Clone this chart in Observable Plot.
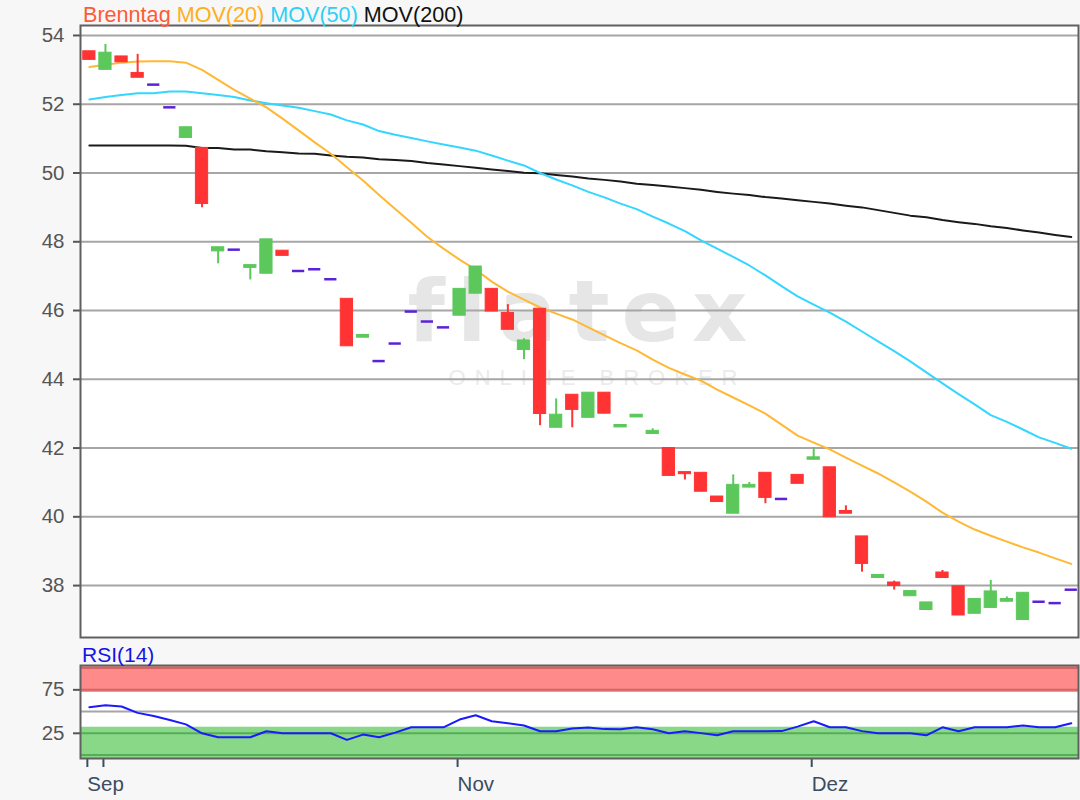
<!DOCTYPE html>
<html><head><meta charset="utf-8">
<script src="https://cdn.jsdelivr.net/npm/d3@7"></script>
<script src="https://cdn.jsdelivr.net/npm/@observablehq/plot@0.6"></script>
<style>
body{margin:0;background:#f7f7f7;}
#wrap{position:relative;width:1080px;height:800px;background:#f7f7f7;font-family:"Liberation Sans",Arial,sans-serif;}
#main{position:absolute;left:0;top:0;}
#rsi{position:absolute;left:0;top:645px;}
.lbl{position:absolute;font-size:21px;line-height:21px;white-space:pre;}
</style></head><body>
<div id="wrap">
<div id="main"></div><div id="rsi"></div>
<div class="lbl" style="left:83px;top:4px;font-size:21.6px"><span style="color:#ff5a36">Brenntag</span> <span style="color:#ffae1a">MOV(20)</span> <span style="color:#2dd0f5">MOV(50)</span> <span style="color:#111">MOV(200)</span></div>
<div class="lbl" style="left:82px;top:644px;color:#1414e6">RSI(14)</div>
</div>
<script>
// ---- data ----
const open  = [53.54,53.00,53.39,52.91,52.57,51.91,51.02,50.73,47.72,47.77,47.24,47.07,47.74,47.15,47.20,46.91,46.34,45.21,44.53,45.04,45.97,45.68,45.51,45.85,46.49,46.63,45.93,44.85,46.05,42.59,43.55,42.88,43.61,42.60,42.89,42.41,42.00,41.30,41.28,40.59,40.09,40.85,41.28,40.52,41.22,41.66,41.44,40.17,39.43,38.22,38.09,37.69,37.29,38.38,37.98,37.18,37.35,37.53,37.00,37.53,37.49,37.88];
const high  = [53.54,53.74,53.39,53.45,52.57,51.91,51.33,50.73,47.84,47.77,47.32,48.07,47.74,47.15,47.20,46.91,46.34,45.29,44.53,45.04,45.97,45.68,45.51,46.63,47.28,46.63,46.17,45.18,46.05,43.43,43.55,43.61,43.61,42.67,42.97,42.56,42.00,41.30,41.28,40.59,41.22,41.00,41.28,40.52,41.22,42.01,41.44,40.32,39.43,38.31,38.13,37.84,37.51,38.44,37.98,37.61,38.15,37.67,37.79,37.53,37.49,37.88];
const low   = [53.29,53.00,53.22,52.77,52.57,51.91,51.02,48.99,47.36,47.77,46.89,47.07,47.59,47.15,47.20,46.91,44.96,45.21,44.53,45.04,45.97,45.68,45.51,45.85,46.49,45.97,45.44,44.57,42.65,42.59,42.59,42.88,43.00,42.60,42.89,42.41,41.19,41.07,40.73,40.43,40.09,40.85,40.38,40.52,40.96,41.66,39.99,40.09,38.39,38.22,37.87,37.69,37.29,38.22,37.13,37.18,37.35,37.53,37.00,37.53,37.49,37.88];
const close = [53.29,53.50,53.22,52.77,52.57,51.91,51.33,49.10,47.84,47.77,47.32,48.07,47.59,47.15,47.20,46.91,44.96,45.29,44.53,45.04,45.97,45.68,45.51,46.63,47.28,45.97,45.44,45.13,42.99,42.97,43.11,43.61,43.00,42.67,42.97,42.50,41.19,41.24,40.73,40.43,40.93,40.93,40.55,40.52,40.96,41.73,39.99,40.09,38.63,38.31,37.99,37.84,37.51,38.22,37.13,37.61,37.83,37.61,37.79,37.53,37.49,37.88];
const ma20  = [53.08,53.15,53.21,53.24,53.25,53.25,53.21,53.00,52.71,52.42,52.16,51.91,51.58,51.24,50.89,50.56,50.17,49.78,49.36,48.95,48.55,48.14,47.80,47.48,47.19,46.84,46.55,46.32,46.09,45.91,45.74,45.51,45.28,45.05,44.84,44.57,44.33,44.14,43.96,43.70,43.47,43.24,43.00,42.68,42.36,42.16,41.96,41.72,41.49,41.26,41.00,40.73,40.44,40.12,39.86,39.63,39.45,39.28,39.11,38.96,38.79,38.63];
const ma50  = [52.14,52.21,52.27,52.32,52.32,52.37,52.37,52.32,52.27,52.21,52.11,52.03,51.96,51.90,51.80,51.70,51.53,51.41,51.22,51.11,51.02,50.92,50.83,50.74,50.65,50.51,50.36,50.22,50.00,49.81,49.64,49.45,49.29,49.11,48.95,48.73,48.53,48.31,48.04,47.80,47.56,47.31,47.02,46.71,46.41,46.17,45.94,45.68,45.39,45.10,44.82,44.52,44.20,43.88,43.57,43.27,42.96,42.76,42.54,42.31,42.15,41.98];
const ma200 = [50.80,50.80,50.80,50.80,50.80,50.80,50.79,50.73,50.73,50.68,50.68,50.63,50.60,50.57,50.56,50.51,50.47,50.45,50.40,50.38,50.35,50.29,50.25,50.20,50.15,50.10,50.06,50.01,49.99,49.94,49.90,49.84,49.80,49.75,49.69,49.65,49.61,49.56,49.51,49.45,49.40,49.36,49.30,49.26,49.21,49.16,49.11,49.05,49.00,48.92,48.84,48.76,48.71,48.63,48.57,48.52,48.45,48.40,48.33,48.27,48.20,48.14];
const rsi   = [55.0,57.3,55.8,48.5,45.0,40.2,35.3,25.0,20.4,20.4,20.4,27.3,25.0,25.0,25.0,25.0,17.4,23.5,20.4,25.8,31.9,31.9,31.9,40.8,45.7,38.8,36.5,33.9,27.3,27.3,30.4,31.6,29.8,29.6,31.9,29.6,25.0,27.3,25.2,22.7,27.3,27.3,27.3,27.5,32.7,38.8,31.9,31.9,27.5,25.0,25.0,25.0,22.7,31.9,27.3,31.9,31.9,31.9,34.1,31.9,31.9,36.5];
const yTicks = [38,40,42,44,46,48,50,52,54];
const rsiTicks = [25,75];
const monthTicks = [0,1,23,45];
const monthLabels = ["Sep","","Nov","Dez"];
const rsiHighBand = [{lo:72, hi:103}];
const rsiLowBand = [{lo:-4, hi:32}];

// ---- build ----
const N = open.length;
const candles = open.map((o,i)=>({i, o, h:high[i], l:low[i], c:close[i]}));
const up = candles.filter(d=>d.c>d.o), down = candles.filter(d=>d.c<d.o), flat = candles.filter(d=>d.c===d.o);
const hw = 0.38;
const xDomain = [-0.55, N-0.55];
const GREEN = "#5cc85c", RED = "#ff3333", DOJI = "#5b22d8";
const font = "Liberation Sans, Arial, sans-serif";

const main = Plot.plot({
  width:1080, height:645, marginLeft:80, marginRight:2, marginTop:25, marginBottom:8,
  style:{background:"transparent", fontFamily:font, fontSize:"20.5px", overflow:"visible"},
  x:{domain:xDomain, axis:null},
  y:{domain:[36.49,54.29], axis:null},
  marks:[
    Plot.frame({fill:"white"}),
    Plot.text(["flatex"], {text:d=>d, frameAnchor:"middle", dx:4, dy:-18, fontSize:86, fontWeight:"bold", fill:"#e6e6e6", fontFamily:"DejaVu Sans"}),
    Plot.text(["ONLINE BROKER"], {text:d=>d, frameAnchor:"middle", dx:18, dy:46, fontSize:22, fill:"#ebebeb"}),
    Plot.ruleY(yTicks, {stroke:"#a6a6a6", strokeWidth:2}),
    Plot.axisY({ticks:yTicks, tickSize:7, tickPadding:9, color:"#555", strokeWidth:2}),
    Plot.lineY(ma200, {stroke:"#1a1a1a", strokeWidth:2}),
    Plot.lineY(ma50, {stroke:"#33d6ff", strokeWidth:2}),
    Plot.lineY(ma20, {stroke:"#ffb833", strokeWidth:2}),
    Plot.ruleX(up, {x:"i", y1:"l", y2:"h", stroke:GREEN, strokeWidth:2}),
    Plot.ruleX(down, {x:"i", y1:"l", y2:"h", stroke:RED, strokeWidth:2}),
    Plot.rect(up, {x1:d=>d.i-hw, x2:d=>d.i+hw, y1:"o", y2:"c", fill:GREEN, stroke:GREEN, strokeWidth:1}),
    Plot.rect(down, {x1:d=>d.i-hw, x2:d=>d.i+hw, y1:"o", y2:"c", fill:RED, stroke:RED, strokeWidth:1}),
    Plot.ruleY(flat, {y:"o", x1:d=>d.i-hw, x2:d=>d.i+hw, stroke:DOJI, strokeWidth:2.5}),
    Plot.frame({stroke:"#606060", strokeWidth:2})
  ]
});
document.getElementById("main").appendChild(main);

const rsiPlot = Plot.plot({
  width:1080, height:155, marginLeft:80, marginRight:2, marginTop:20, marginBottom:42,
  style:{background:"transparent", fontFamily:font, fontSize:"20.5px", overflow:"visible"},
  x:{domain:xDomain, axis:null},
  y:{domain:[-4,103], axis:null},
  marks:[
    Plot.frame({fill:"white"}),
    Plot.rect(rsiHighBand, {y1:"lo", y2:"hi", fill:"#ff8a8a"}),
    Plot.rect(rsiLowBand, {y1:"lo", y2:"hi", fill:"#88d888"}),
    Plot.ruleY([100,75], {stroke:"#d46464", strokeWidth:2}),
    Plot.ruleY([25,0], {stroke:"#58ac58", strokeWidth:2}),
    Plot.ruleY([50], {stroke:"#a6a6a6", strokeWidth:2}),
    Plot.lineY(rsi, {stroke:"#1a1aff", strokeWidth:2}),
    Plot.axisY({ticks:rsiTicks, tickSize:7, tickPadding:9, color:"#555", strokeWidth:2}),
    Plot.axisX({ticks:monthTicks, tickFormat:d=>monthLabels[monthTicks.indexOf(d)], tickSize:9, tickPadding:9, textAnchor:"start", dx:-2, color:"#3b4d60", strokeWidth:2}),
    Plot.frame({stroke:"#606060", strokeWidth:2})
  ]
});
document.getElementById("rsi").appendChild(rsiPlot);

// letter spacing for the watermark
d3.select(main).selectAll("text").filter(function(){return this.textContent==="ONLINE BROKER";}).attr("letter-spacing","9px");
d3.select(main).selectAll("text").filter(function(){return this.textContent==="flatex";}).attr("letter-spacing","12px");
</script>
</body></html>
